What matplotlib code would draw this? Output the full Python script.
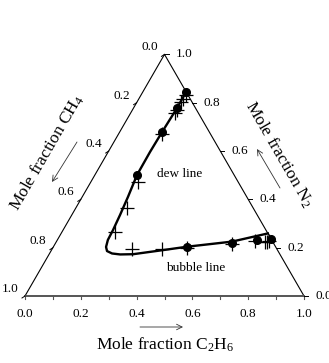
import numpy as np
import matplotlib
matplotlib.use("Agg")
import matplotlib.pyplot as plt

plt.rcParams['font.family'] = ['Liberation Serif', 'DejaVu Serif']
plt.rcParams['mathtext.fontset'] = 'custom'
plt.rcParams['mathtext.rm'] = 'Liberation Serif'
plt.rcParams['mathtext.it'] = 'Liberation Serif:italic'

# ternary compositions (mole fraction C2H6, mole fraction N2); CH4 = 1 - both
# calculated phase envelope
curve_c2h6 = [0.155, 0.156, 0.152, 0.150, 0.151, 0.164, 0.173, 0.179, 0.181,
              0.189, 0.201, 0.224, 0.255, 0.301, 0.400, 0.479, 0.629, 0.741]
curve_n2 = [0.845, 0.778, 0.679, 0.596, 0.501, 0.410, 0.335, 0.273, 0.232,
            0.203, 0.186, 0.176, 0.172, 0.173, 0.190, 0.204, 0.225, 0.259]

# filled circles
dot_c2h6 = [0.157, 0.157, 0.152, 0.150, 0.478, 0.632, 0.714, 0.763]
dot_n2 = [0.843, 0.777, 0.680, 0.501, 0.204, 0.219, 0.232, 0.237]

# plus symbols
plus_c2h6 = [0.161, 0.159, 0.158, 0.160, 0.159, 0.155, 0.170, 0.183, 0.190,
             0.285, 0.393, 0.482, 0.634, 0.710, 0.748, 0.756, 0.762]
plus_n2 = [0.832, 0.815, 0.803, 0.770, 0.757, 0.6705, 0.473, 0.363, 0.266,
           0.1945, 0.1945, 0.2007, 0.215, 0.228, 0.225, 0.225, 0.228]

tick_vals = [0.0, 0.2, 0.4, 0.6, 0.8, 1.0]
tick_labels = ['0.0', '0.2', '0.4', '0.6', '0.8', '1.0']

H = np.sqrt(3) / 2


def tern(c2h6, n2):
    c2h6 = np.asarray(c2h6)
    n2 = np.asarray(n2)
    return c2h6 + n2 / 2, n2 * H


fig = plt.figure(figsize=(3.29, 3.63), dpi=100)
ax = fig.add_axes([0, 0, 1, 1])
S = 279.0  # pixels per unit
ax.set_xlim(-25 / S, 304 / S)
ax.set_ylim(-67 / S, 296 / S)
ax.axis('off')

# triangle
ax.plot([0, 0.5, 1], [0, H, 0], color='black', lw=0.8)
ax.plot([0, 1], [0, 0], color='#555555', lw=1.4)

# bottom axis (C2H6)
for v in np.arange(0, 1.01, 0.1):
    ax.plot([v, v], [0, -3 / S], color='#555555', lw=0.8)
for v, lab in zip(tick_vals, tick_labels):
    ax.text(v, -18 / S, lab, ha='center', va='center', fontsize=9.5)

# right axis (N2)
for v, lab in zip(tick_vals, tick_labels):
    x, y = tern(1 - v, v)
    ax.plot([x, x + 4 / S], [y, y], color='black', lw=0.7)
    ax.text(x + 11 / S, y, lab, ha='left', va='center', fontsize=9.5)

# left axis (CH4)
for v, lab in zip(tick_vals, tick_labels):
    x, y = tern(0, 1 - v)
    ax.plot([x, x - 3 / S], [y, y - 2 / S], color='black', lw=0.7)
    ax.text(x - 15 / S, y + 7 / S, lab, ha='center', va='center', fontsize=9.5)

# data
cx, cy = tern(curve_c2h6, curve_n2)
ax.plot(cx, cy, color='black', lw=1.7, solid_joinstyle='round')
px_, py_ = tern(plus_c2h6, plus_n2)
ax.plot(px_, py_, '+', color='black', ms=9.5, mew=0.9)
dx, dy = tern(dot_c2h6, dot_n2)
ax.plot(dx, dy, 'o', color='black', ms=5.5)

ax.text(0.555, (296 - 174) / S, 'dew line', ha='center', va='center', fontsize=9.5)
ax.text(0.613, (296 - 268) / S, 'bubble line', ha='center', va='center', fontsize=9.5)

# axis titles
ax.text(0.500, (296 - 345) / S, 'Mole fraction C$_{\\mathrm{2}}$H$_{\\mathrm{6}}$',
        ha='center', va='center', fontsize=12.5)
ax.text((47 - 25) / S, (296 - 152) / S, 'Mole fraction CH$_{\\mathrm{4}}$',
        ha='center', va='center', fontsize=12.5, rotation=60, rotation_mode='anchor')
ax.text((279 - 25) / S, (296 - 154) / S, 'Mole fraction N$_{\\mathrm{2}}$',
        ha='center', va='center', fontsize=12.5, rotation=-60, rotation_mode='anchor')

# arrows
arrow = dict(arrowstyle='->', lw=0.6, color='#333333', shrinkA=0, shrinkB=0)
ax.annotate('', xy=((183 - 25) / S, (296 - 327) / S),
            xytext=((140 - 25) / S, (296 - 327) / S), arrowprops=arrow)
ax.annotate('', xy=((52 - 25) / S, (296 - 182) / S),
            xytext=((77 - 25) / S, (296 - 142) / S), arrowprops=arrow)
ax.annotate('', xy=((257 - 25) / S, (296 - 149) / S),
            xytext=((280 - 25) / S, (296 - 188) / S), arrowprops=arrow)

fig.savefig('out.png', dpi=100)
